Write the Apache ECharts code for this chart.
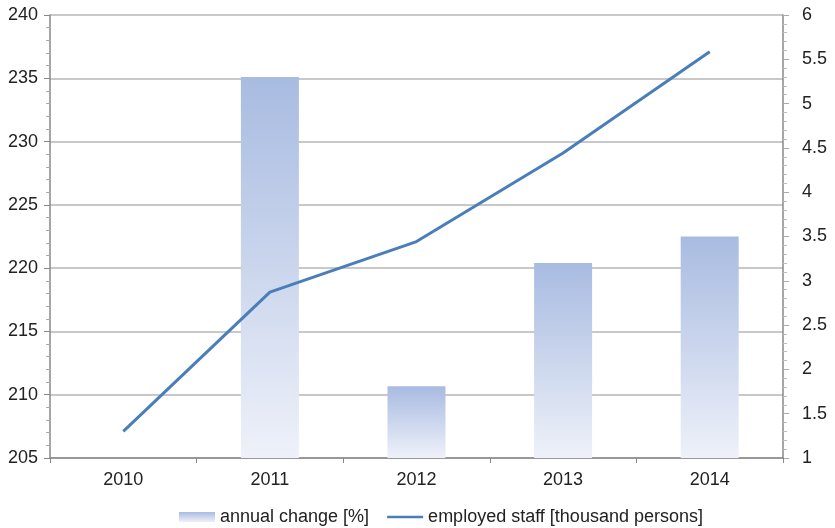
<!DOCTYPE html>
<html><head><meta charset="utf-8">
<script src="https://cdn.jsdelivr.net/npm/echarts@6/dist/echarts.min.js"></script>
<style>html,body{margin:0;padding:0;background:#fff}#c{width:835px;height:528px}</style>
</head><body><div id="c"></div>
<script>
const categories = ['2010', '2011', '2012', '2013', '2014'];
const annualChange = [null, 5.3, 1.81, 3.2, 3.5];
const employedStaff = [207.1, 218.1, 222.1, 229.1, 237.1];
const barName = 'annual change [%]';
const lineName = 'employed staff [thousand persons]';

const chart = echarts.init(document.getElementById('c'));
const barGrad = new echarts.graphic.LinearGradient(0, 0, 0, 1, [
  {offset: 0, color: '#a8bbe1'}, {offset: 1, color: '#eef1f9'}
]);
chart.setOption({
  animation: false,
  textStyle: {fontFamily: 'Liberation Sans, Arial, sans-serif'},
  grid: {left: 50, right: 52, top: 15, bottom: 70, containLabel: false},
  legend: {
    left: 174, bottom: -3, itemGap: 18, itemWidth: 36, itemHeight: 10,
    textStyle: {fontSize: 18, color: '#222'},
    data: [
      {name: barName, icon: 'rect', itemStyle: {color: barGrad}},
      {name: lineName, icon: 'path://M0,0H40V3H0Z', itemStyle: {color: '#4a7ebb'}}
    ]
  },
  xAxis: {
    type: 'category', data: categories, boundaryGap: true,
    axisLine: {lineStyle: {color: '#888', width: 1.5}},
    axisTick: {show: true, length: 5, lineStyle: {color: '#888'}},
    axisLabel: {fontSize: 18, color: '#222', margin: 13}
  },
  yAxis: [
    {
      type: 'value', min: 205, max: 240, interval: 5, position: 'left',
      axisLine: {show: true, lineStyle: {color: '#888', width: 1.5}},
      axisTick: {show: true, length: 6, lineStyle: {color: '#888'}},
      minorTick: {show: true, splitNumber: 5, length: 4, lineStyle: {color: '#aaa'}},
      splitLine: {show: true, lineStyle: {color: '#c8c8c8', width: 2}},
      axisLabel: {fontSize: 18, color: '#222', margin: 12}
    },
    {
      type: 'value', min: 1, max: 6, interval: 0.5, position: 'right',
      axisLine: {show: true, lineStyle: {color: '#888', width: 1.5}},
      axisTick: {show: true, length: 6, lineStyle: {color: '#aaa'}},
      minorTick: {show: true, splitNumber: 5, length: 4, lineStyle: {color: '#bbb'}},
      splitLine: {show: false},
      axisLabel: {fontSize: 18, color: '#222', margin: 19}
    }
  ],
  series: [
    {
      name: barName, type: 'bar', yAxisIndex: 1, data: annualChange,
      barWidth: 58, itemStyle: {color: barGrad}
    },
    {
      name: lineName, type: 'line', yAxisIndex: 0, data: employedStaff,
      symbol: 'none', lineStyle: {color: '#4a7ebb', width: 3},
      itemStyle: {color: '#4a7ebb'}, z: 5
    }
  ]
});
</script></body></html>
